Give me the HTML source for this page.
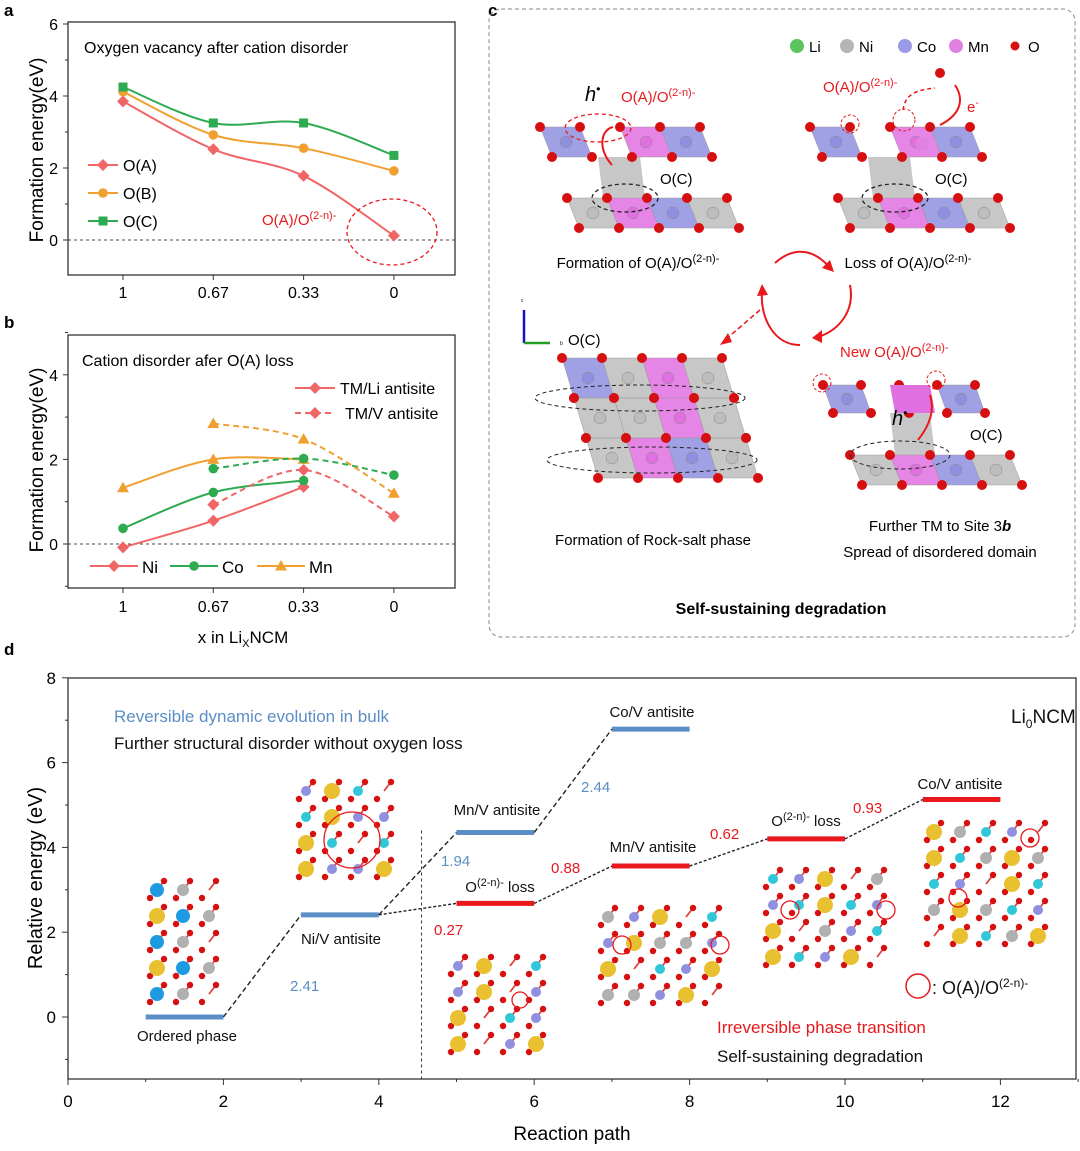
<!DOCTYPE html>
<html><head><meta charset="utf-8"><style>
body{margin:0;background:#fff}
svg{display:block;font-family:"Liberation Sans",Arial,sans-serif}
</style></head><body>
<svg id="fig" width="1080" height="1151" viewBox="0 0 1080 1151" xmlns="http://www.w3.org/2000/svg">
<g id="pa"></g>
<g id="pb"></g>
<g id="pc"></g>
<g id="pd"></g>
</svg>
<script>
// ---------- data ----------
const xCats = ["1","0.67","0.33","0"];
const aOA = [3.85, 2.52, 1.78, 0.12];
const aOB = [4.12, 2.92, 2.55, 1.92];
const aOC = [4.25, 3.25, 3.25, 2.35];
const aTicks = [0,2,4,6];
const bNiS = [-0.08, 0.55, 1.35];
const bCoS = [0.37, 1.22, 1.5];
const bMnS = [1.33, 2.0, 2.0];
const bNiD = [null, 0.93, 1.75, 0.65];
const bCoD = [null, 1.78, 2.02, 1.63];
const bMnD = [null, 2.85, 2.48, 1.2];
const bTicks = [0,2,4];
const dBlueStart = [1,3,5,7];
const dBlueE = [0, 2.41, 4.35, 6.79];
const dRedStart = [5,7,9,11];
const dRedE = [2.68, 3.56, 4.2, 5.13];
const dXTicks = [0,2,4,6,8,10,12];
const dYTicks = [0,2,4,6,8];

const NS="http://www.w3.org/2000/svg";
function el(parent,tag,attrs,text){const e=document.createElementNS(NS,tag);for(const k in attrs)e.setAttribute(k,attrs[k]);if(text!==undefined)e.innerHTML=text;parent.appendChild(e);return e;}
const RED="#f06666",ORA="#f0a030",GRN="#2eaa50",BLUE="#5b8ec6",DRED="#e8181c";
function spline(pts){
  if(pts.length<2)return "";let d=`M${pts[0][0]},${pts[0][1]}`;
  for(let i=0;i<pts.length-1;i++){const p0=pts[i-1]||pts[i],p1=pts[i],p2=pts[i+1],p3=pts[i+2]||p2;
    const c1=[p1[0]+(p2[0]-p0[0])/6,p1[1]+(p2[1]-p0[1])/6],c2=[p2[0]-(p3[0]-p1[0])/6,p2[1]-(p3[1]-p1[1])/6];
    d+=` C${c1[0]},${c1[1]} ${c2[0]},${c2[1]} ${p2[0]},${p2[1]}`;}return d;}
function marker(g,shape,x,y,c,s){
  let m;
  if(shape==="d")m=el(g,"polygon",{points:`${x},${y-s} ${x+s},${y} ${x},${y+s} ${x-s},${y}`,fill:c});
  else if(shape==="o")m=el(g,"circle",{cx:x,cy:y,r:s*0.8,fill:c});
  else if(shape==="s")m=el(g,"rect",{x:x-s*0.75,y:y-s*0.75,width:s*1.5,height:s*1.5,fill:c});
  else m=el(g,"polygon",{points:`${x},${y-s} ${x+s},${y+s*0.75} ${x-s},${y+s*0.75}`,fill:c});
  
  
  return m;}

// ---------- panel a ----------
(function(){
const g=document.getElementById('pa');
const X=i=>123+i*90.3, Y=v=>240-v*36;
el(g,"text",{x:4,y:16,"font-size":17,"font-weight":"bold"},"a");
const fr=el(g,"rect",{x:68,y:22,width:387,height:253,fill:"none",stroke:"#333","stroke-width":1.3});

el(g,"line",{x1:68,y1:Y(0),x2:455,y2:Y(0),stroke:"#444","stroke-dasharray":"3,3"});
aTicks.forEach(t=>{el(g,"line",{x1:68,y1:Y(t),x2:63,y2:Y(t),stroke:"#333"});el(g,"line",{x1:68,y1:Y(t+1),x2:65,y2:Y(t+1),stroke:"#333"});
 const tl=el(g,"text",{x:58,y:Y(t)+6,"font-size":16,"text-anchor":"end"},t);});
xCats.forEach((c,i)=>{el(g,"line",{x1:X(i),y1:275,x2:X(i),y2:280,stroke:"#333"});
 const tl=el(g,"text",{x:X(i),y:298,"font-size":16,"text-anchor":"middle"},c);});
const yt=el(g,"text",{x:0,y:0,"font-size":19,"text-anchor":"middle",transform:"translate(43,150) rotate(-90)"},"Formation energy(eV)");

const tt=el(g,"text",{x:84,y:53,"font-size":16},"Oxygen vacancy after cation disorder");

[[aOA,RED,"d","O(A)"],[aOB,ORA,"o","O(B)"],[aOC,GRN,"s","O(C)"]].forEach(([s,c,m,n],k)=>{
 const p=el(g,"path",{d:spline(s.map((v,i)=>[X(i),Y(v)])),fill:"none",stroke:c,"stroke-width":2});
 
 s.forEach((v,i)=>marker(g,m,X(i),Y(v),c,6));
 const ly=165+k*28;el(g,"line",{x1:88,y1:ly,x2:118,y2:ly,stroke:c,"stroke-width":2});marker(g,m,103,ly,c,6);
 const lt=el(g,"text",{x:123,y:ly+6,"font-size":16},n);});
el(g,"text",{x:262,y:225,"font-size":15,fill:DRED},"O(A)/O<tspan dy='-6' font-size='11'>(2-n)-</tspan>");
el(g,"ellipse",{cx:392,cy:232,rx:45,ry:33,fill:"none",stroke:DRED,"stroke-width":1.3,"stroke-dasharray":"4,3"});
})();

// ---------- panel b ----------
(function(){
const g=document.getElementById('pb');
const X=i=>123+i*90.3, Y=v=>544-v*42.3;
el(g,"text",{x:4,y:328,"font-size":17,"font-weight":"bold"},"b");
el(g,"rect",{x:68,y:335,width:387,height:253,fill:"none",stroke:"#333","stroke-width":1.3});
el(g,"line",{x1:68,y1:Y(0),x2:455,y2:Y(0),stroke:"#444","stroke-dasharray":"3,3"});
bTicks.forEach(t=>{el(g,"line",{x1:68,y1:Y(t),x2:63,y2:Y(t),stroke:"#333"});el(g,"line",{x1:68,y1:Y(t+1),x2:65,y2:Y(t+1),stroke:"#333"});
 const tl=el(g,"text",{x:58,y:Y(t)+6,"font-size":16,"text-anchor":"end"},t);});
el(g,"line",{x1:68,y1:Y(-1),x2:65,y2:Y(-1),stroke:"#333"});
xCats.forEach((c,i)=>{el(g,"line",{x1:X(i),y1:588,x2:X(i),y2:593,stroke:"#333"});
 const tl=el(g,"text",{x:X(i),y:612,"font-size":16,"text-anchor":"middle"},c);});
const xt=el(g,"text",{x:243,y:643,"font-size":17,"text-anchor":"middle"},"x in Li<tspan dy='4' font-size='11'>X</tspan><tspan dy='-4'>NCM</tspan>");

const yt=el(g,"text",{x:0,y:0,"font-size":19,"text-anchor":"middle",transform:"translate(43,460) rotate(-90)"},"Formation energy(eV)");

el(g,"text",{x:82,y:366,"font-size":16},"Cation disorder afer O(A) loss");
[[bNiS,RED,"d","ni"],[bCoS,GRN,"o","co"],[bMnS,ORA,"t","mn"]].forEach(([s,c,m,n])=>{
 const p=el(g,"path",{d:spline(s.map((v,i)=>[X(i),Y(v)])),fill:"none",stroke:c,"stroke-width":2});
 
 s.forEach((v,i)=>marker(g,m,X(i),Y(v),c,6));});
[[bNiD,RED,"d","ni"],[bCoD,GRN,"o","co"],[bMnD,ORA,"t","mn"]].forEach(([s,c,m,n])=>{
 const pts=[];s.forEach((v,i)=>{if(v!==null)pts.push([X(i),Y(v)]);});
 const p=el(g,"path",{d:spline(pts),fill:"none",stroke:c,"stroke-width":2,"stroke-dasharray":"6,4"});
 
 pts.forEach(q=>marker(g,m,q[0],q[1],c,6));});
el(g,"line",{x1:295,y1:388,x2:335,y2:388,stroke:RED,"stroke-width":2});marker(g,"d",315,388,RED,6);
el(g,"text",{x:340,y:394,"font-size":16},"TM/Li antisite");
el(g,"line",{x1:295,y1:413,x2:335,y2:413,stroke:RED,"stroke-width":2,"stroke-dasharray":"6,4"});marker(g,"d",315,413,RED,6);
el(g,"text",{x:345,y:419,"font-size":16},"TM/V antisite");
[["Ni",RED,"d",90],["Co",GRN,"o",170],["Mn",ORA,"t",257]].forEach(([n,c,m,x])=>{
 el(g,"line",{x1:x,y1:566,x2:x+48,y2:566,stroke:c,"stroke-width":2});marker(g,m,x+24,566,c,6);
 const lt=el(g,"text",{x:x+52,y:573,"font-size":17},n);});
})();

// ---------- panel c ----------
(function(){
const g=document.getElementById('pc');
el(g,"text",{x:488,y:16,"font-size":17,"font-weight":"bold"},"c");
el(g,"rect",{x:489,y:9,width:586,height:628,rx:12,fill:"none",stroke:"#888","stroke-dasharray":"4,3"});
const COL={g:"#bdbdbd",m:"#e070e0",b:"#8f8fe0"};
function slab(x0,y0,cols,w,h,sk){
 cols.forEach((c,i)=>{if(c==="-")return;const a=x0+i*w;
  el(g,"polygon",{points:`${a},${y0} ${a+w},${y0} ${a+w+sk},${y0+h} ${a+sk},${y0+h}`,fill:COL[c],"fill-opacity":0.85,stroke:"#999","stroke-width":0.5});
  el(g,"circle",{cx:a+w/2+sk/2,cy:y0+h/2,r:6,fill:COL[c],stroke:"#888","stroke-width":0.5});});
 for(let i=0;i<=cols.length;i++){el(g,"circle",{cx:x0+i*w,cy:y0,r:5,fill:"#d61010"});el(g,"circle",{cx:x0+i*w+sk,cy:y0+h,r:5,fill:"#d61010"});}}
function mid(x,y,w,h){el(g,"polygon",{points:`${x},${y} ${x+w},${y} ${x+w+5},${y+h} ${x+5},${y+h}`,fill:COL.g,"fill-opacity":0.85});}
[["Li","#5cc45c",797],["Ni","#b5b5b5",847],["Co","#9a9ae6",905],["Mn","#e080e0",956]].forEach(([n,c,x])=>{
 el(g,"circle",{cx:x,cy:46,r:7,fill:c});const t=el(g,"text",{x:x+12,y:52,"font-size":15},n);});
el(g,"circle",{cx:1015,cy:46,r:4.5,fill:"#d61010"});el(g,"text",{x:1028,y:52,"font-size":15},"O");
mid(598,157,42,41);slab(540,127,["b","-","m","b"],40,30,12);slab(567,198,["g","m","b","g"],40,30,12);
el(g,"text",{x:585,y:101,"font-size":20,"font-style":"italic"},"h<tspan dy='-8' font-size='12'>•</tspan>");
el(g,"text",{x:621,y:102,"font-size":15,fill:DRED},"O(A)/O<tspan dy='-6' font-size='11'>(2-n)-</tspan>");
el(g,"ellipse",{cx:598,cy:128,rx:33,ry:14,fill:"none",stroke:DRED,"stroke-dasharray":"4,3","stroke-width":1.3});
el(g,"path",{d:"M612,165 C598,150 600,130 613,127",fill:"none",stroke:DRED,"stroke-width":2});
el(g,"ellipse",{cx:625,cy:198,rx:33,ry:14,fill:"none",stroke:"#222","stroke-dasharray":"4,3","stroke-width":1.3});
el(g,"text",{x:660,y:184,"font-size":15},"O(C)");
el(g,"text",{x:638,y:268,"font-size":15,"text-anchor":"middle"},"Formation of O(A)/O<tspan dy='-6' font-size='11'>(2-n)-</tspan>");
mid(868,157,42,41);slab(810,127,["b","-","m","b"],40,30,12);slab(838,198,["g","m","b","g"],40,30,12);
el(g,"circle",{cx:922,cy:144,r:7,fill:"#e080e0"});
el(g,"circle",{cx:940,cy:73,r:5,fill:"#d61010"});
el(g,"circle",{cx:850,cy:124,r:9,fill:"none",stroke:DRED,"stroke-dasharray":"3,2"});
el(g,"circle",{cx:904,cy:120,r:11,fill:"none",stroke:DRED,"stroke-dasharray":"3,2"});
el(g,"path",{d:"M903,110 C905,95 915,90 935,88",fill:"none",stroke:DRED,"stroke-dasharray":"4,3","stroke-width":1.5});
el(g,"path",{d:"M955,85 C965,100 960,115 940,125",fill:"none",stroke:DRED,"stroke-width":2});
el(g,"text",{x:967,y:112,"font-size":15,fill:DRED},"e<tspan dy='-6' font-size='10'>-</tspan>");
el(g,"text",{x:823,y:92,"font-size":15,fill:DRED},"O(A)/O<tspan dy='-6' font-size='11'>(2-n)-</tspan>");
el(g,"ellipse",{cx:895,cy:198,rx:33,ry:14,fill:"none",stroke:"#222","stroke-dasharray":"4,3","stroke-width":1.3});
el(g,"text",{x:935,y:184,"font-size":15},"O(C)");
el(g,"text",{x:908,y:268,"font-size":15,"text-anchor":"middle"},"Loss of O(A)/O<tspan dy='-6' font-size='11'>(2-n)-</tspan>");
el(g,"path",{d:"M775,263 C795,245 815,250 830,268",fill:"none",stroke:DRED,"stroke-width":2});
el(g,"polygon",{points:"834,272 822,268 830,260",fill:DRED});
el(g,"path",{d:"M850,285 C855,310 840,330 818,337",fill:"none",stroke:DRED,"stroke-width":2});
el(g,"polygon",{points:"812,338 822,330 822,343",fill:DRED});
el(g,"path",{d:"M800,345 C775,345 760,320 762,290",fill:"none",stroke:DRED,"stroke-width":2});
el(g,"polygon",{points:"762,284 757,296 768,295",fill:DRED});
el(g,"line",{x1:760,y1:310,x2:725,y2:340,stroke:DRED,"stroke-width":1.5,"stroke-dasharray":"5,3"});
el(g,"polygon",{points:"720,345 728,333 732,342",fill:DRED});
el(g,"line",{x1:524,y1:343,x2:524,y2:310,stroke:"#1010d0","stroke-width":2.5});el(g,"line",{x1:524,y1:343,x2:550,y2:343,stroke:"#20a020","stroke-width":2.5});
el(g,"text",{x:521,y:302,"font-size":5},"c");el(g,"text",{x:560,y:345,"font-size":5},"b");
slab(562,358,["b","g","m","g"],40,40,12);slab(574,398,["g","g","m","g"],40,40,12);slab(586,438,["g","m","b","g"],40,40,12);
el(g,"ellipse",{cx:640,cy:398,rx:105,ry:13,fill:"none",stroke:"#222","stroke-dasharray":"4,3"});
el(g,"ellipse",{cx:652,cy:460,rx:105,ry:13,fill:"none",stroke:"#222","stroke-dasharray":"4,3"});
el(g,"text",{x:568,y:345,"font-size":15},"O(C)");
el(g,"text",{x:653,y:545,"font-size":15,"text-anchor":"middle"},"Formation of Rock-salt phase");
mid(890,413,40,42);slab(823,385,["b","-","-","b"],38,28,10);slab(850,455,["g","m","b","g"],40,30,12);
el(g,"polygon",{points:"890,385 930,385 935,413 895,413",fill:COL.m});
el(g,"circle",{cx:822,cy:383,r:9,fill:"none",stroke:DRED,"stroke-dasharray":"3,2"});
el(g,"circle",{cx:936,cy:380,r:9,fill:"none",stroke:DRED,"stroke-dasharray":"3,2"});
el(g,"path",{d:"M918,440 C930,425 935,410 930,395",fill:"none",stroke:DRED,"stroke-width":2});
el(g,"text",{x:892,y:425,"font-size":20,"font-style":"italic"},"h<tspan dy='-8' font-size='12'>•</tspan>");
el(g,"text",{x:840,y:357,"font-size":15,fill:DRED},"New O(A)/O<tspan dy='-6' font-size='11'>(2-n)-</tspan>");
el(g,"ellipse",{cx:900,cy:455,rx:50,ry:14,fill:"none",stroke:"#222","stroke-dasharray":"4,3"});
el(g,"text",{x:970,y:440,"font-size":15},"O(C)");
el(g,"text",{x:940,y:531,"font-size":15,"text-anchor":"middle"},"Further TM to Site 3<tspan font-weight='bold' font-style='italic'>b</tspan>");
el(g,"text",{x:940,y:557,"font-size":15,"text-anchor":"middle"},"Spread of disordered domain");
const st=el(g,"text",{x:781,y:614,"font-size":16,"font-weight":"bold","text-anchor":"middle"},"Self-sustaining degradation");

})();

// ---------- panel d ----------
(function(){
const g=document.getElementById('pd');
const X=v=>68+v*77.7, Y=v=>1017-v*42.4;
const BOT=1079;
el(g,"text",{x:4,y:655,"font-size":17,"font-weight":"bold"},"d");
el(g,"rect",{x:68,y:678,width:1008,height:BOT-678,fill:"none",stroke:"#333","stroke-width":1.3});
dXTicks.forEach(t=>{el(g,"line",{x1:X(t),y1:BOT,x2:X(t),y2:BOT+6,stroke:"#333"});el(g,"line",{x1:X(t+1),y1:BOT,x2:X(t+1),y2:BOT+3,stroke:"#333"});
 const tl=el(g,"text",{x:X(t),y:1107,"font-size":17,"text-anchor":"middle"},t);});
dYTicks.forEach(t=>{el(g,"line",{x1:68,y1:Y(t),x2:62,y2:Y(t),stroke:"#333"});if(t<8)el(g,"line",{x1:68,y1:Y(t+1),x2:65,y2:Y(t+1),stroke:"#333"});
 const tl=el(g,"text",{x:56,y:Y(t)+6,"font-size":17,"text-anchor":"end"},t);});
el(g,"line",{x1:68,y1:Y(-1),x2:65,y2:Y(-1),stroke:"#333"});
const xt2=el(g,"text",{x:572,y:1140,"font-size":19,"text-anchor":"middle"},"Reaction path");

const yt=el(g,"text",{x:0,y:0,"font-size":20,"text-anchor":"middle",transform:"translate(42,878) rotate(-90)"},"Relative energy (eV)");

el(g,"line",{x1:X(4.55),y1:Y(4.4),x2:X(4.55),y2:BOT,stroke:"#333","stroke-dasharray":"3,3"});
function mol(cx,cy,w,h,sp,cols){
 for(let r=0;r<=h;r+=1)for(let c=0;c<=w;c+=1){const x=cx+c*sp-w*sp/2,y=cy+r*sp-h*sp/2;
  el(g,"line",{x1:x,y1:y,x2:x+7,y2:y-9,stroke:"#e04040","stroke-width":1.8});
  el(g,"circle",{cx:x+7,cy:y-9,r:3.2,fill:"#d61010"});
  el(g,"circle",{cx:x-7,cy:y+8,r:3.2,fill:"#d61010"});
  const k=cols[(r*(w+1)+c)%cols.length];if(k)el(g,"circle",{cx:x,cy:y,r:k[1],fill:k[0]});}}
const Gy=["#b0b0b0",6],Bl=["#1e9ae0",7],Ye=["#e8c030",8],Pu=["#9090e0",5],Cy=["#30c8d8",5];
mol(183,942,2,4,26,[Bl,Gy,null,Ye,Bl,Gy]);
mol(345,830,3,3,26,[Pu,Ye,Cy,null,Cy,Ye,Pu]);
mol(497,1005,3,3,26,[Pu,Ye,null,Cy,Pu,Ye,null]);
mol(660,956,4,3,26,[Gy,Pu,Ye,null,Cy,Pu,Ye,Gy]);
mol(825,918,4,3,26,[Cy,Pu,Ye,null,Gy,Pu,Cy,Ye]);
mol(986,884,4,4,26,[Ye,Gy,Cy,Pu,null,Ye,Cy,Gy]);
[[352,840,28],[520,1000,8],[622,945,9],[720,945,9],[790,910,9],[886,910,9],[1030,838,9],[958,898,9]].forEach(p=>el(g,"circle",{cx:p[0],cy:p[1],r:p[2],fill:"none",stroke:DRED,"stroke-width":1.3}));
dBlueStart.forEach((s,i)=>{const l=el(g,"line",{x1:X(s),y1:Y(dBlueE[i]),x2:X(s+1),y2:Y(dBlueE[i]),stroke:BLUE,"stroke-width":5});
 });
dRedStart.forEach((s,i)=>{const l=el(g,"line",{x1:X(s),y1:Y(dRedE[i]),x2:X(s+1),y2:Y(dRedE[i]),stroke:DRED,"stroke-width":5});
 });
function conn(x1,e1,x2,e2,da){const l=el(g,"line",{x1:X(x1),y1:Y(e1),x2:X(x2),y2:Y(e2),stroke:"#222","stroke-width":1.4,"stroke-dasharray":da});
 }
for(let i=0;i<dBlueStart.length-1;i++)conn(dBlueStart[i]+1,dBlueE[i],dBlueStart[i+1],dBlueE[i+1],"5,3");
conn(dBlueStart[1]+1,dBlueE[1],dRedStart[0],dRedE[0],"3,2");
for(let i=0;i<dRedStart.length-1;i++)conn(dRedStart[i]+1,dRedE[i],dRedStart[i+1],dRedE[i+1],"3,2");
const T=(x,y,t,c,fs,extra)=>{const e=el(g,"text",Object.assign({x:x,y:y,"font-size":fs||15,fill:c||"#111"},extra||{}),t);return e;};
T(187,1041,"Ordered phase",null,15,{"text-anchor":"middle"});
T(290,991,"2.41",BLUE);
T(341,944,"Ni/V antisite",null,15,{"text-anchor":"middle"});
T(497,815,"Mn/V antisite",null,15,{"text-anchor":"middle"});
T(441,866,"1.94",BLUE);
T(652,717,"Co/V antisite",null,15,{"text-anchor":"middle"});
T(581,792,"2.44",BLUE);
T(500,892,"O<tspan dy='-6' font-size='11'>(2-n)-</tspan><tspan dy='6'> loss</tspan>",null,15,{"text-anchor":"middle"});
T(434,935,"0.27",DRED);
T(551,873,"0.88",DRED);
T(653,852,"Mn/V antisite",null,15,{"text-anchor":"middle"});
T(710,839,"0.62",DRED);
T(806,826,"O<tspan dy='-6' font-size='11'>(2-n)-</tspan><tspan dy='6'> loss</tspan>",null,15,{"text-anchor":"middle"});
T(853,813,"0.93",DRED);
T(960,789,"Co/V antisite",null,15,{"text-anchor":"middle"});
T(1011,723,"Li<tspan dy='5' font-size='12'>0</tspan><tspan dy='-5'>NCM</tspan>",null,19);
T(114,722,"Reversible dynamic evolution in bulk","#5b8ec6",17);
T(114,749,"Further structural disorder without oxygen loss",null,17);
T(717,1033,"Irreversible phase transition",DRED,17);
T(717,1062,"Self-sustaining degradation",null,17);
el(g,"circle",{cx:918,cy:986,r:12,fill:"none",stroke:DRED,"stroke-width":1.5});
T(932,994,": O(A)/O<tspan dy='-7' font-size='12'>(2-n)-</tspan>",null,18);
})();
</script>
</body></html>
